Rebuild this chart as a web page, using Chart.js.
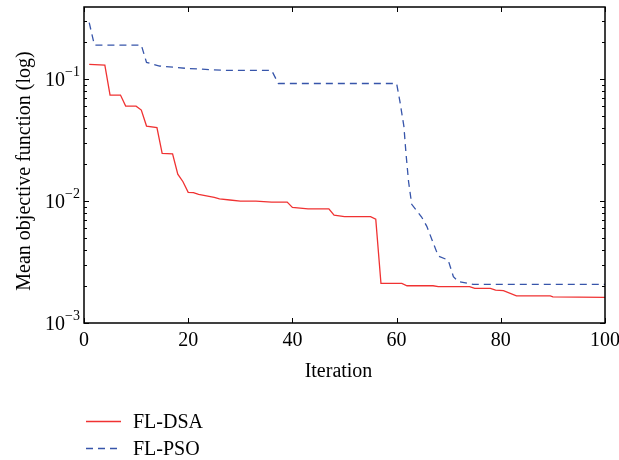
<!DOCTYPE html>
<html>
<head>
<meta charset="utf-8">
<script src="https://cdn.jsdelivr.net/npm/chart.js@4"></script>
<style>
  html, body { margin: 0; padding: 0; background: #fff; }
  #wrap { width: 619px; height: 460px; }
</style>
</head>
<body>
<div id="wrap"><canvas id="chart"></canvas></div>
<script>
// values
var dsaIter = [1, 4, 5, 7, 8, 10, 11, 12, 14, 15, 17, 18, 19, 20, 21, 22, 25, 26, 28, 30, 33, 36, 39, 40, 43, 47, 48, 50, 55, 56, 57, 61, 62, 67, 68, 74, 75, 78, 79, 80.5, 83, 89.5, 90, 100];
var dsaValue = [0.132, 0.130, 0.074, 0.074, 0.060, 0.060, 0.0557, 0.0412, 0.040, 0.0246, 0.0244, 0.0166, 0.0144, 0.0118, 0.0117, 0.01135, 0.0107, 0.0104, 0.0102, 0.0100, 0.0100, 0.0098, 0.0098, 0.00887, 0.00864, 0.00864, 0.00767, 0.00744, 0.00744, 0.0071, 0.00211, 0.00211, 0.00202, 0.00202, 0.00199, 0.00199, 0.00192, 0.00192, 0.00186, 0.00184, 0.00167, 0.00167, 0.00164, 0.00162];

var psoIter = [1, 2, 11, 12, 14.5, 20, 27, 36, 37.3, 60, 60.6, 61.4, 61.8, 62.3, 62.9, 64.8, 65.8, 68, 69.9, 70.9, 71.8, 74.7, 100];
var psoValue = [0.29, 0.19, 0.19, 0.137, 0.128, 0.122, 0.118, 0.118, 0.092, 0.092, 0.067, 0.041, 0.0246, 0.0144, 0.0094, 0.0074, 0.0062, 0.00354, 0.00328, 0.0024, 0.00219, 0.00207, 0.00207];

var xTicks = [0, 20, 40, 60, 80, 100];
var yExponents = [-3, -2, -1];
var seriesNames = ['FL-DSA', 'FL-PSO'];

function pts(xs, ys) {
  return xs.map(function (x, i) { return { x: x, y: ys[i] }; });
}

var FONT = '"Liberation Serif", "DejaVu Serif", serif';

// frame, inward ticks, labels and legend drawn in matlab style
var matlabAxes = {
  id: 'matlabAxes',
  afterDraw: function (chart) {
    var c = chart.ctx, a = chart.chartArea;
    var xs = chart.scales.x, ys = chart.scales.y;
    c.save();
    c.strokeStyle = '#000';
    c.lineWidth = 1.5;
    c.strokeRect(a.left, a.top, a.right - a.left, a.bottom - a.top);

    c.lineWidth = 1;
    c.beginPath();
    xTicks.forEach(function (t) {
      var px = Math.round(xs.getPixelForValue(t)) + 0.5;
      c.moveTo(px, a.bottom); c.lineTo(px, a.bottom - 5);
      c.moveTo(px, a.top); c.lineTo(px, a.top + 5);
    });
    yExponents.forEach(function (e) {
      for (var m = 1; m <= 9; m++) {
        var v = m * Math.pow(10, e);
        if (v > ys.max + 1e-12) break;
        var py = Math.round(ys.getPixelForValue(v)) + 0.5;
        var len = m === 1 ? 5 : 3;
        c.moveTo(a.left, py); c.lineTo(a.left + len, py);
        c.moveTo(a.right, py); c.lineTo(a.right - len, py);
      }
    });
    c.stroke();

    c.fillStyle = '#000';
    c.font = '20px ' + FONT;
    c.textAlign = 'center';
    c.textBaseline = 'middle';
    xTicks.forEach(function (t) {
      c.fillText(String(t), xs.getPixelForValue(t), a.bottom + 18);
    });

    yExponents.forEach(function (e) {
      var py = ys.getPixelForValue(Math.pow(10, e));
      var sup = '\u2212' + Math.abs(e);
      c.font = '14px ' + FONT;
      var ws = c.measureText(sup).width;
      c.textAlign = 'right';
      c.textBaseline = 'middle';
      c.fillText(sup, a.left - 4, py - 7);
      c.font = '20px ' + FONT;
      c.fillText('10', a.left - 4 - ws, py + 2);
    });

    c.font = '20px ' + FONT;
    c.textAlign = 'center';
    c.textBaseline = 'alphabetic';
    c.fillText('Iteration', (a.left + a.right) / 2 - 6, 377);

    c.save();
    c.translate(30, 171);
    c.rotate(-Math.PI / 2);
    c.fillText('Mean objective function (log)', 0, 0);
    c.restore();

    // legend
    chart.data.datasets.forEach(function (ds, i) {
      var y = 421.5 + i * 27;
      c.strokeStyle = ds.borderColor;
      c.lineWidth = ds.borderWidth;
      c.setLineDash(ds.borderDash || []);
      c.beginPath();
      c.moveTo(86, y); c.lineTo(121, y);
      c.stroke();
      c.setLineDash([]);
      c.fillStyle = '#000';
      c.textAlign = 'left';
      c.textBaseline = 'middle';
      c.fillText(ds.label, 133, y + 1);
    });
    c.restore();
  }
};

new Chart(document.getElementById('chart'), {
  type: 'line',
  data: {
    datasets: [{
      label: seriesNames[0],
      data: pts(dsaIter, dsaValue),
      borderColor: 'rgb(240, 50, 50)',
      borderWidth: 1.3,
      pointRadius: 0,
      tension: 0,
      fill: false
    }, {
      label: seriesNames[1],
      data: pts(psoIter, psoValue),
      borderColor: 'rgb(55, 85, 170)',
      borderWidth: 1.3,
      borderDash: [7, 5],
      pointRadius: 0,
      tension: 0,
      fill: false
    }]
  },
  options: {
    responsive: true,
    maintainAspectRatio: false,
    animation: false,
    layout: { padding: { left: 84, top: 7, right: 14, bottom: 137 } },
    plugins: { legend: { display: false }, tooltip: { enabled: false } },
    scales: {
      x: { type: 'linear', min: 0, max: 100, display: false },
      y: { type: 'logarithmic', min: 0.001, max: 0.39, display: false }
    }
  },
  plugins: [matlabAxes]
});
</script>
</body>
</html>
